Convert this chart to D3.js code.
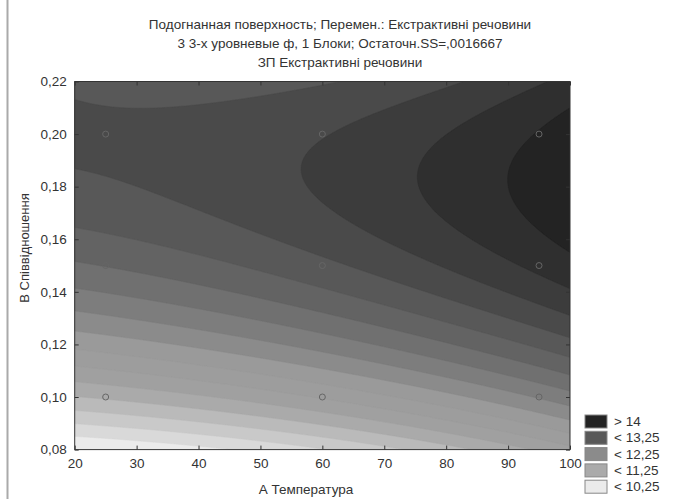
<!DOCTYPE html>
<html>
<head>
<meta charset="utf-8">
<script src="https://cdn.jsdelivr.net/npm/d3@7"></script>
<style>
  body { margin: 0; background: #fff; }
  svg text { font-family: "Liberation Sans", Arial, sans-serif; fill: #333; }
</style>
</head>
<body>
<svg id="chart" width="678" height="499"></svg>
<script>
// fitted surface, coded units a = (A-60)/35, b = (B-0.15)/0.05
// z = (c0 + c1 a + c2 a^2) + (..) b + (..) b^2
const coefB0 = [13.187, 0.5276, 0.1003]
const coefB1 = [0.979, -0.1277, 0.0191]
const coefB2 = [-0.68, -0.0372, 0.0478]

const titleLines = [
  'Подогнанная поверхность; Перемен.: Екстрактивні речовини',
  '3 3-х уровневые ф, 1 Блоки; Остаточн.SS=,0016667',
  'ЗП Екстрактивні речовини'
]
const xTicks = [20, 30, 40, 50, 60, 70, 80, 90, 100]
const yTicks = [0.08, 0.10, 0.12, 0.14, 0.16, 0.18, 0.20, 0.22]
const levels = [10.25, 10.5, 10.75, 11, 11.25, 11.5, 11.75, 12, 12.25, 12.5, 12.75, 13, 13.25, 13.5, 13.75, 14]
const bandColors = ['#ebebeb', '#d9d9d9', '#c9c9c9', '#bababa', '#aaaaaa', '#a0a0a0', '#9d9d9d', '#9a9a9a',
  '#8b8b8b', '#7d7d7d', '#707070', '#636363', '#585858', '#4a4a4a', '#3c3c3c', '#2f2f2f', '#232323']
const legendLabels = ['> 14', '< 13,25', '< 12,25', '< 11,25', '< 10,25']
const legendBands = [16, 12, 8, 4, 0]
const designA = [25, 60, 95]
const designB = [0.10, 0.15, 0.20]

const margin = { top: 81.5, right: 108, bottom: 49.4, left: 74.7 }
const W = 678, H = 499
const width = W - margin.left - margin.right
const height = H - margin.top - margin.bottom

const svg = d3.select('#chart')

// left border of the window
svg.append('line')
  .attr('x1', 7.5).attr('x2', 7.5).attr('y1', 0).attr('y2', H)
  .style('stroke', '#aaa').style('stroke-width', 2)

svg.selectAll('.title')
  .data(titleLines)
  .enter().append('text')
    .attr('x', 340)
    .attr('y', (d, i) => 29 + i * 19)
    .attr('text-anchor', 'middle')
    .style('font-size', '13.5px')
    .text(d => d)

const g = svg.append('g')
  .attr('transform', `translate(${margin.left}, ${margin.top})`)

const xScale = d3.scaleLinear().domain([20, 100]).range([0, width])
const yScale = d3.scaleLinear().domain([0.08, 0.22]).range([height, 0])

const poly = (c, a) => c[0] + c[1] * a + c[2] * a * a
const surface = (A, B) => {
  const a = (A - 60) / 35, b = (B - 0.15) / 0.05
  return poly(coefB0, a) + poly(coefB1, a) * b + poly(coefB2, a) * b * b
}

// evaluate on a grid, one cell per pixel
const nx = Math.round(width), ny = Math.round(height)
const values = new Array(nx * ny)
for (let j = 0; j < ny; j++) {
  for (let i = 0; i < nx; i++) {
    const A = xScale.invert((i + 0.5) * width / nx)
    const B = yScale.invert((j + 0.5) * height / ny)
    values[i + j * nx] = surface(A, B)
  }
}

const contours = d3.contours().size([nx, ny]).thresholds(levels)(values)
const toPlot = d3.geoTransform({
  point: function (x, y) { this.stream.point(x * width / nx, y * height / ny) }
})
const path = d3.geoPath(toPlot)

g.append('clipPath').attr('id', 'clip')
  .append('rect').attr('width', width).attr('height', height)

const plot = g.append('g').attr('clip-path', 'url(#clip)')
plot.append('rect')
  .attr('width', width).attr('height', height)
  .style('fill', bandColors[0])
plot.selectAll('path')
  .data(contours)
  .enter().append('path')
    .attr('d', path)
    .style('fill', (d, i) => bandColors[i + 1])
    .style('stroke', (d, i) => bandColors[i + 1])
    .style('stroke-width', 0.5)

// design points
const pts = designB.flatMap(B => designA.map(A => [A, B]))
g.selectAll('.pt')
  .data(pts)
  .enter().append('circle')
    .attr('cx', d => xScale(d[0]))
    .attr('cy', d => yScale(d[1]))
    .attr('r', 3)
    .style('fill', 'none')
    .style('stroke', '#666')
    .style('stroke-width', 1)

// frame and ticks
g.append('rect')
  .attr('width', width).attr('height', height)
  .style('fill', 'none').style('stroke', '#333').style('stroke-width', 1)

const fmtY = d => d3.format('.2f')(d).replace('.', ',')
const xAxis = d3.axisBottom(xScale).tickValues(xTicks).tickSize(-4).tickPadding(9)
const yAxis = d3.axisLeft(yScale).tickValues(yTicks).tickSize(-4).tickPadding(8).tickFormat(fmtY)

const gx = g.append('g').attr('transform', `translate(0, ${height})`).call(xAxis)
const gy = g.append('g').call(yAxis)
g.append('g').call(d3.axisTop(xScale).tickValues(xTicks).tickSize(-4).tickFormat(''))
g.append('g').attr('transform', `translate(${width}, 0)`)
  .call(d3.axisRight(yScale).tickValues(yTicks).tickSize(-4).tickFormat(''))
g.selectAll('.domain').remove()
g.selectAll('.tick line').style('stroke', '#333')
g.selectAll('.tick text').style('font-size', '13.5px').style('fill', '#333')
  .style('font-family', '"Liberation Sans", Arial, sans-serif')

// axis titles
svg.append('text')
  .attr('x', 306).attr('y', 494)
  .attr('text-anchor', 'middle')
  .style('font-size', '13.5px')
  .text('А Температура')
svg.append('text')
  .attr('transform', 'translate(29, 248) rotate(-90)')
  .attr('text-anchor', 'middle')
  .style('font-size', '13px')
  .text('В Співвідношення')

// legend
const leg = svg.append('g').attr('transform', 'translate(585, 415)')
const item = leg.selectAll('.item')
  .data(legendLabels)
  .enter().append('g')
    .attr('transform', (d, i) => `translate(0, ${i * 16.3})`)
item.append('rect')
  .attr('width', 22).attr('height', 13)
  .style('fill', (d, i) => bandColors[legendBands[i]])
  .style('stroke', '#888').style('stroke-width', 1)
item.append('text')
  .attr('x', 29).attr('y', 11)
  .style('font-size', '13.5px')
  .text(d => d)
</script>
</body>
</html>
